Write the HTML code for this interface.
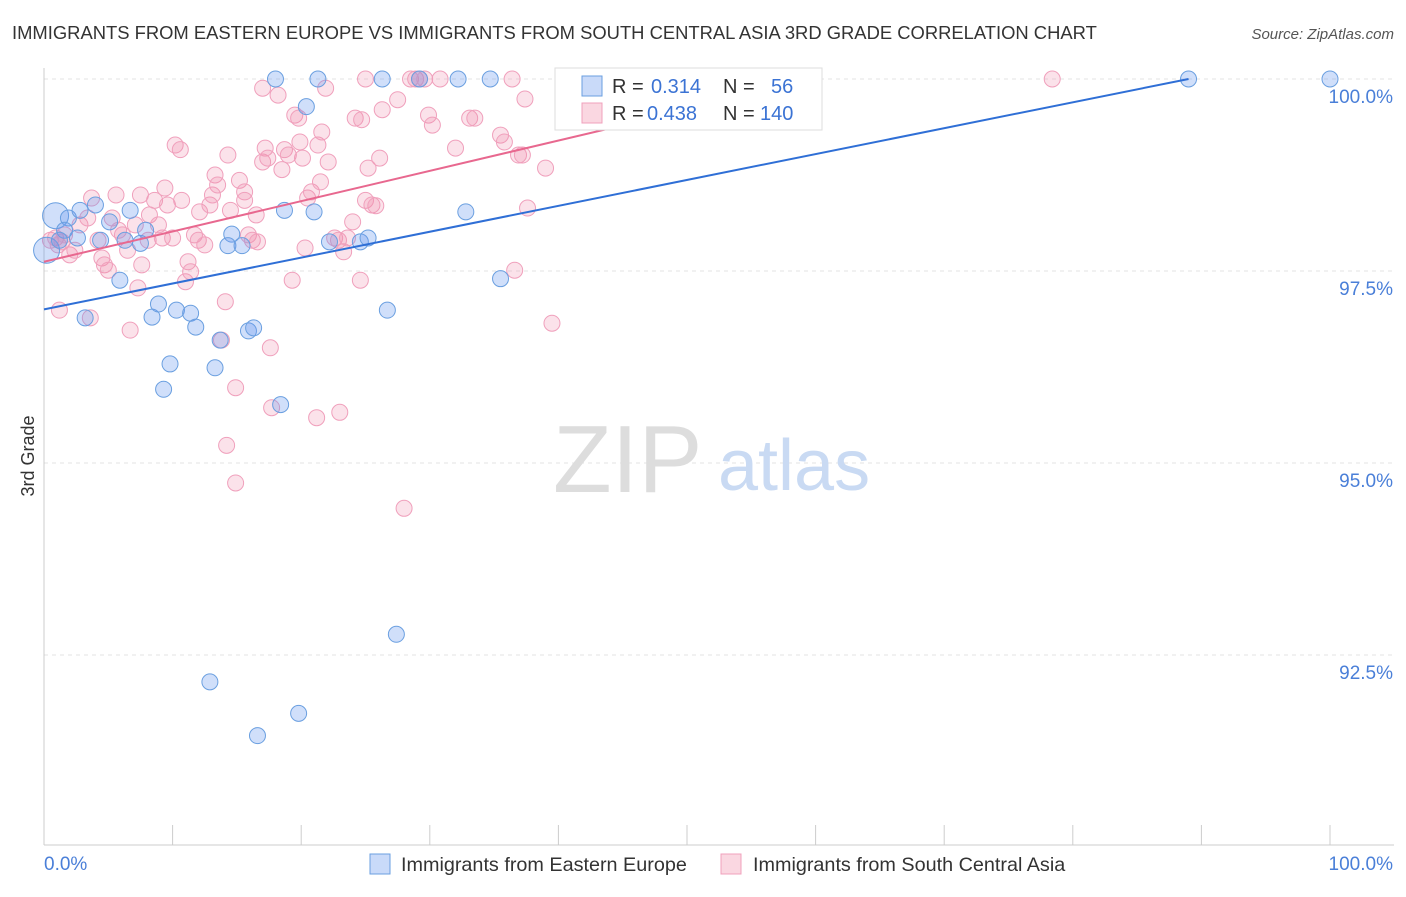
<!DOCTYPE html>
<html><head><meta charset="utf-8"><style>
body{margin:0;background:#fff;width:1406px;height:892px;overflow:hidden;font-family:"Liberation Sans",sans-serif}
svg text{font-family:"Liberation Sans",sans-serif}
</style></head><body>
<svg id="chart" width="1406" height="892" xmlns="http://www.w3.org/2000/svg">
<text x="12" y="39" font-size="18.4" fill="#333">IMMIGRANTS FROM EASTERN EUROPE VS IMMIGRANTS FROM SOUTH CENTRAL ASIA 3RD GRADE CORRELATION CHART</text>
<text x="1394" y="39" font-size="15" fill="#555" font-style="italic" text-anchor="end">Source: ZipAtlas.com</text>
<g id="grid"></g>
<g id="axes"></g>
<text x="553" y="492" font-size="96" fill="#ddd" font-family="Liberation Serif">ZIP</text>
<text x="718" y="490" font-size="72" fill="#c9daf3">atlas</text>
<g id="pts"></g>
<g id="lines"></g>
<text transform="translate(34,456) rotate(-90)" font-size="18" fill="#333" text-anchor="middle">3rd Grade</text>
<g>
<rect x="555" y="68" width="267" height="62" fill="#fff" stroke="#ddd"/>
<rect x="582" y="76" width="20" height="20" fill="rgba(100,149,237,0.35)" stroke="#6a9fe0"/>
<text x="612" y="93" font-size="20" fill="#333">R = </text><text x="651" y="93" font-size="20" fill="#3b73d4">0.314</text>
<text x="723" y="93" font-size="20" fill="#333">N = </text><text x="771" y="93" font-size="20" fill="#3b73d4">56</text>
<rect x="582" y="103" width="20" height="20" fill="rgba(240,140,170,0.35)" stroke="#f0a0bc"/>
<text x="612" y="120" font-size="20" fill="#333">R = </text><text x="647" y="120" font-size="20" fill="#3b73d4">0.438</text>
<text x="723" y="120" font-size="20" fill="#333">N = </text><text x="760" y="120" font-size="20" fill="#3b73d4">140</text>
</g>
<g>
<rect x="370" y="854" width="20" height="20" fill="rgba(100,149,237,0.35)" stroke="#6a9fe0"/>
<text x="401" y="871" font-size="19.8" fill="#333">Immigrants from Eastern Europe</text>
<rect x="721" y="854" width="20" height="20" fill="rgba(240,140,170,0.35)" stroke="#f0a0bc"/>
<text x="753" y="871" font-size="19.8" fill="#333">Immigrants from South Central Asia</text>
</g>
</svg>
<script>
const yTicks=[100,97.5,95,92.5];
const yTickLabels=["100.0%","97.5%","95.0%","92.5%"];
const blueX=[0.9,0.2,1.9,2.8,4.0,1.6,5.1,6.7,4.4,6.3,7.5,7.9,5.9,3.2,8.4,8.9,10.3,11.4,11.8,9.3,9.8,13.3,13.7,14.6,14.3,15.4,15.9,16.3,18.7,21.0,22.2,24.6,25.2,26.7,18.0,21.3,20.4,26.3,29.2,32.2,34.7,32.8,35.5,18.4,27.4,12.9,19.8,16.6,89.0,100,2.6,1.2];
const blueY=[98.22,97.77,98.19,98.29,98.36,98.03,98.14,98.29,97.90,97.90,97.86,98.03,97.38,96.89,96.90,97.07,96.99,96.95,96.77,95.96,96.29,96.24,96.60,97.98,97.83,97.83,96.72,96.76,98.29,98.27,97.88,97.88,97.93,96.99,100,100,99.64,100,100,100,100,98.27,97.40,95.76,92.77,92.15,91.74,91.45,100,100,97.93,97.90];
const pinkX=[0.5,0.9,1.1,1.4,2.0,2.4,1.6,2.8,3.4,3.7,4.2,4.5,4.7,5.0,5.3,5.6,5.8,6.1,6.5,6.7,7.1,7.3,7.6,8.1,8.2,8.6,8.9,9.2,9.4,9.6,10.0,10.2,10.6,10.7,11.0,11.2,11.4,11.7,12.0,12.1,12.5,12.9,13.1,13.3,13.5,13.8,14.1,14.2,14.3,14.5,14.9,14.9,15.2,15.6,15.9,16.2,16.5,16.6,17.0,17.2,17.4,17.6,17.7,18.2,18.5,18.7,19.0,19.3,19.5,19.8,19.9,20.1,20.3,20.5,20.8,21.2,21.3,21.5,21.6,21.9,22.1,22.6,22.9,23.0,23.3,23.6,24.0,24.2,24.6,24.7,25.0,25.2,25.5,25.8,26.1,26.3,25.0,27.5,28.0,28.5,28.9,29.2,29.6,29.9,30.2,30.8,32.0,33.1,33.5,35.5,35.8,36.4,36.6,36.9,37.2,37.4,37.6,39.0,39.5,41.5,78.4,1.2,3.6,7.5,15.6,17.0];
const pinkY=[97.90,97.93,97.84,97.88,97.71,97.77,97.97,98.10,98.19,98.45,97.90,97.67,97.58,97.51,98.19,98.49,98.03,97.97,97.77,96.73,98.10,97.28,97.58,97.90,98.23,98.42,98.10,97.93,98.58,98.36,97.93,99.14,99.08,98.42,97.36,97.62,97.49,97.97,97.90,98.27,97.84,98.36,98.49,98.75,98.62,96.60,97.10,95.23,99.01,98.29,95.98,94.74,98.68,98.53,97.97,97.90,98.23,97.88,98.92,99.10,98.97,96.50,95.72,99.79,98.82,99.08,99.01,97.38,99.53,99.49,99.18,98.97,97.80,98.45,98.53,95.59,99.14,98.66,99.31,99.88,98.92,97.93,97.90,95.66,97.75,97.93,98.14,99.49,97.38,99.47,98.42,98.84,98.36,98.35,98.97,99.60,100,99.73,94.41,100,100,100,100,99.53,99.40,100,99.10,99.49,99.49,99.27,99.18,100,97.51,99.01,99.01,99.74,98.32,98.84,96.82,100,100,96.99,96.89,98.49,98.42,99.88];
const blueTrendX=[0,89.0];
const blueTrendY=[97.0,100.0];
const pinkTrendX=[0,60.3];
const pinkTrendY=[97.62,100.0];

const NS="http://www.w3.org/2000/svg";
const xs=v=>44+v*12.86;
const ys=v=>79+(100-v)*76.8;
function mk(tag,attrs,parent){const e=document.createElementNS(NS,tag);for(const k in attrs)e.setAttribute(k,attrs[k]);parent.appendChild(e);return e;}
const grid=document.getElementById('grid'),axes=document.getElementById('axes');
yTicks.forEach((t,i)=>{
  const l=mk('line',{x1:44,x2:1394,y1:ys(t),y2:ys(t),stroke:'#e3e3e3','stroke-dasharray':'4,4'},grid);
  
  
  const tx=mk('text',{x:1393,y:ys(t)+24,'font-size':19,fill:'#4a7fd8','text-anchor':'end'},axes);
  tx.textContent=yTickLabels[i];
  
  
});
const ax=mk('line',{x1:44,x2:44,y1:68,y2:845,stroke:'#ccc'},axes);


const bx=mk('line',{x1:44,x2:1394,y1:845,y2:845,stroke:'#ccc'},axes);


for(let i=0;i<=10;i++){
  const t=mk('line',{x1:xs(i*10),x2:xs(i*10),y1:825,y2:845,stroke:'#ccc'},axes);
  
  
}
const x0=mk('text',{x:44,y:870,'font-size':19,fill:'#4a7fd8'},axes);x0.textContent='0.0%';


const x1=mk('text',{x:1393,y:870,'font-size':19,fill:'#4a7fd8','text-anchor':'end'},axes);x1.textContent='100.0%';


const pts=document.getElementById('pts');
pinkX.forEach((x,i)=>{
  const c=mk('circle',{cx:xs(x),cy:ys(pinkY[i]),r:8,fill:'rgba(240,140,170,0.25)',stroke:'#f0a0bc','stroke-width':1},pts);
  
  
});
blueX.forEach((x,i)=>{
  const r=(i<2)?13:8;
  const c=mk('circle',{cx:xs(x),cy:ys(blueY[i]),r:r,fill:'rgba(100,149,237,0.3)',stroke:'#6a9fe0','stroke-width':1},pts);
  
  
});
const lines=document.getElementById('lines');
const bl=mk('line',{x1:xs(blueTrendX[0]),y1:ys(blueTrendY[0]),x2:xs(blueTrendX[1]),y2:ys(blueTrendY[1]),stroke:'#2f6fd6','stroke-width':2},lines);


const pl=mk('line',{x1:xs(pinkTrendX[0]),y1:ys(pinkTrendY[0]),x2:xs(pinkTrendX[1]),y2:ys(pinkTrendY[1]),stroke:'#e8688f','stroke-width':2},lines);


</script>
</body></html>
